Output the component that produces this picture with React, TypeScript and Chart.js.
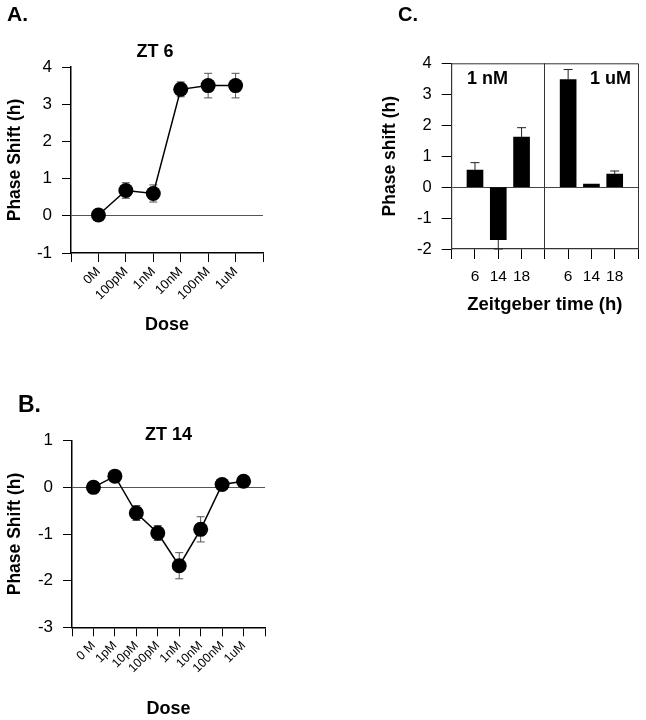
import React, { useEffect, useRef } from 'react';
import { Chart, registerables } from 'chart.js';

Chart.register(...registerables);

const FONT = '"Liberation Sans", Arial, Helvetica, sans-serif';

// ---- Panel A: ZT 6 dose response ----
const doseLabelsA = ['0M', '100pM', '1nM', '10nM', '100nM', '1uM'];
const shiftA = [0.02, 0.68, 0.6, 3.4, 3.5, 3.5];
const errA = [0, 0.21, 0.23, 0.2, 0.33, 0.33];

// ---- Panel B: ZT 14 dose response ----
const doseLabelsB = ['0 M', '1pM', '10pM', '100pM', '1nM', '10nM', '100nM', '1uM'];
const shiftB = [0.0, 0.24, -0.55, -0.98, -1.68, -0.9, 0.06, 0.13];
const errB = [0, 0, 0.16, 0.16, 0.28, 0.27, 0, 0];

// ---- Panel C: Zeitgeber time, two doses ----
const ztLabels = ['6', '14', '18'];
const shift1nM = [0.55, -1.7, 1.62];
const err1nM = [0.24, 0.3, 0.3];
const shift1uM = [3.47, 0.1, 0.42];
const err1uM = [0.33, 0, 0.1];

const errorBarsPlugin = {
  id: 'errorBars',
  beforeDatasetsDraw(chart: any) {
    drawErrors(chart, 'before');
  },
  afterDatasetsDraw(chart: any) {
    drawErrors(chart, 'after');
  },
};

function drawErrors(chart: any, phase: string) {
  const ctx = chart.ctx;
  const yScale = chart.scales.y;
  chart.data.datasets.forEach((ds: any, i: number) => {
    if (!ds.errors || ds.errorPhase !== phase) return;
    const meta = chart.getDatasetMeta(i);
    ctx.save();
    ctx.strokeStyle = ds.errorColor || '#444';
    ctx.lineWidth = 1;
    meta.data.forEach((el: any, j: number) => {
      const e = ds.errors[j];
      if (!e) return;
      const v = ds.data[j].y;
      let hi: number, lo: number;
      if (ds.errorMode === 'away') {
        hi = v >= 0 ? v + e : v;
        lo = v >= 0 ? v : v - e;
      } else {
        hi = v + e;
        lo = v - e;
      }
      const x = el.x;
      const yh = yScale.getPixelForValue(hi);
      const yl = yScale.getPixelForValue(lo);
      const cap = ds.capWidth || 8;
      ctx.beginPath();
      ctx.moveTo(x, yh);
      ctx.lineTo(x, yl);
      if (ds.errorMode !== 'away' || v >= 0) {
        ctx.moveTo(x - cap / 2, yh);
        ctx.lineTo(x + cap / 2, yh);
      }
      if (ds.errorMode !== 'away' || v < 0) {
        ctx.moveTo(x - cap / 2, yl);
        ctx.lineTo(x + cap / 2, yl);
      }
      ctx.stroke();
    });
    ctx.restore();
  });
}

const panelTextPlugin = {
  id: 'panelText',
  afterDraw(chart: any, _args: any, opts: any) {
    const ctx = chart.ctx;
    (opts.items || []).forEach((it: any) => {
      ctx.save();
      ctx.font = `bold ${it.size}px ${FONT}`;
      ctx.fillStyle = '#000';
      ctx.textAlign = 'center';
      ctx.textBaseline = 'middle';
      ctx.fillText(it.text, it.x, it.y);
      ctx.restore();
    });
  },
};

const framePlugin = {
  id: 'frame',
  afterDraw(chart: any, _args: any, opts: any) {
    if (!opts.show) return;
    const { left, right, top, bottom } = chart.chartArea;
    const ctx = chart.ctx;
    ctx.save();
    ctx.strokeStyle = '#333';
    ctx.lineWidth = 1;
    ctx.beginPath();
    ctx.moveTo(left, top + 0.5);
    ctx.lineTo(right + 0.5, top + 0.5);
    ctx.lineTo(right + 0.5, bottom);
    ctx.stroke();
    ctx.restore();
  },
};

Chart.register(errorBarsPlugin, panelTextPlugin, framePlugin);

function tickFont(size: number) {
  return { family: FONT, size };
}
function titleFont(size: number) {
  return { family: FONT, size, weight: 'bold' as const };
}

function doseConfig(
  labels: string[],
  values: number[],
  errors: number[],
  yMin: number,
  yMax: number,
  yWidth: number,
  xHeight: number,
  pad: any,
  texts: any[],
  xFont: number
) {
  return {
    type: 'line',
    data: {
      datasets: [
        {
          data: values.map((v, i) => ({ x: i + 1, y: v })),
          borderColor: '#000',
          borderWidth: 1.5,
          pointRadius: 7.5,
          pointBackgroundColor: '#000',
          pointBorderColor: '#000',
          pointBorderWidth: 0,
          errors,
          errorMode: 'both',
          errorPhase: 'before',
          errorColor: '#555',
          capWidth: 8,
        },
      ],
    },
    options: {
      animation: false,
      responsive: false,
      layout: { padding: pad },
      plugins: {
        legend: { display: false },
        tooltip: { enabled: false },
        panelText: { items: texts },
      },
      scales: {
        x: {
          type: 'linear',
          min: 0,
          max: labels.length + 1,
          afterFit: (s: any) => {
            s.height = xHeight;
          },
          ticks: {
            stepSize: 1,
            autoSkip: false,
            minRotation: 45,
            maxRotation: 45,
            padding: 2,
            color: '#000',
            font: tickFont(xFont),
            callback: (v: number) => labels[v - 1] ?? '',
          },
          grid: { drawOnChartArea: false, tickLength: 9, tickColor: '#000', tickWidth: 1 },
          border: { color: '#000', width: 1.5 },
          title: {
            display: true,
            text: 'Dose',
            color: '#000',
            font: titleFont(18),
            padding: 0,
          },
        },
        y: {
          min: yMin,
          max: yMax,
          afterFit: (s: any) => {
            s.width = yWidth;
          },
          ticks: { stepSize: 1, padding: 10, color: '#000', font: tickFont(17) },
          grid: {
            color: (c: any) => (c.tick && c.tick.value === 0 ? '#555' : 'rgba(0,0,0,0)'),
            lineWidth: 1,
            tickColor: '#000',
            tickLength: 9,
          },
          border: { color: '#000', width: 1.5 },
          title: {
            display: true,
            text: 'Phase Shift (h)',
            color: '#000',
            font: titleFont(17.5),
            padding: 4.5,
          },
        },
      },
    },
  };
}

function barConfig() {
  const xLabel = (v: number) => {
    if (v >= 1 && v <= 3) return ztLabels[v - 1];
    if (v >= 5 && v <= 7) return ztLabels[v - 5];
    return '';
  };
  const mk = (vals: number[], errs: number[], offset: number) => ({
    data: vals.map((v, i) => ({ x: i + offset, y: v })),
    backgroundColor: '#000',
    borderWidth: 0,
    barThickness: 16,
    grouped: false,
    errors: errs,
    errorMode: 'away',
    errorPhase: 'after',
    errorColor: '#222',
    capWidth: 9,
  });
  return {
    type: 'bar',
    data: {
      datasets: [mk(shift1nM, err1nM, 1), mk(shift1uM, err1uM, 5)],
    },
    options: {
      animation: false,
      responsive: false,
      layout: { padding: { left: 0, top: 63.3, right: 5, bottom: 0 } },
      plugins: {
        legend: { display: false },
        tooltip: { enabled: false },
        frame: { show: true },
        panelText: {
          items: [
            { text: 'C.', x: 48, y: 15.5, size: 20 },
            { text: '1 nM', x: 127.5, y: 79, size: 18 },
            { text: '1 uM', x: 250.5, y: 79, size: 18 },
          ],
        },
      },
      scales: {
        x: {
          type: 'linear',
          min: 0,
          max: 8,
          offset: false,
          afterFit: (s: any) => {
            s.height = 67;
          },
          ticks: {
            stepSize: 1,
            autoSkip: false,
            minRotation: 0,
            maxRotation: 0,
            padding: 8,
            color: '#000',
            font: tickFont(15.5),
            callback: (v: number) => xLabel(v),
          },
          grid: {
            offset: false,
            drawOnChartArea: true,
            color: (c: any) => (c.tick && c.tick.value === 4 ? '#333' : 'rgba(0,0,0,0)'),
            tickColor: '#000',
            tickLength: 10,
          },
          border: { color: '#333', width: 1.2 },
          title: {
            display: true,
            text: 'Zeitgeber time (h)',
            color: '#000',
            font: titleFont(18.5),
            padding: 0,
          },
        },
        y: {
          min: -2,
          max: 4,
          afterFit: (s: any) => {
            s.width = 91.7;
          },
          ticks: { stepSize: 1, padding: 10, color: '#000', font: tickFont(16.5) },
          grid: {
            color: (c: any) => (c.tick && c.tick.value === 0 ? '#444' : 'rgba(0,0,0,0)'),
            tickColor: '#000',
            tickLength: 10,
          },
          border: { color: '#333', width: 1.2 },
          title: {
            display: true,
            text: 'Phase shift (h)',
            color: '#000',
            font: titleFont(17.5),
            padding: 19.5,
          },
        },
      },
    },
  };
}

function Panel({ config, left, top, width, height }: any) {
  const ref = useRef<HTMLCanvasElement | null>(null);
  useEffect(() => {
    if (!ref.current) return;
    const chart = new Chart(ref.current, config);
    return () => chart.destroy();
  }, [config]);
  return (
    <canvas
      ref={ref}
      width={width}
      height={height}
      style={{ position: 'absolute', left, top, width, height }}
    />
  );
}

const configA = doseConfig(
  doseLabelsA,
  shiftA,
  errA,
  -1,
  4,
  71,
  83,
  { left: 0, top: 67, right: 37, bottom: 0 },
  [
    { text: 'A.', x: 17.5, y: 15, size: 21 },
    { text: 'ZT 6', x: 155, y: 52, size: 18 },
  ],
  13
);

const configB = doseConfig(
  doseLabelsB,
  shiftB,
  errB,
  -3,
  1,
  72,
  92.7,
  { left: 0, top: 60.7, right: 35, bottom: 0 },
  [
    { text: 'B.', x: 29.5, y: 26, size: 23 },
    { text: 'ZT 14', x: 168.5, y: 55.5, size: 18 },
  ],
  12.5
);

const configC = barConfig();

export default function App() {
  return (
    <div
      style={{
        position: 'fixed',
        left: 0,
        top: 0,
        width: 646,
        height: 720,
        background: '#fff',
        overflow: 'hidden',
      }}
    >
      <Panel config={configA} left={0} top={0} width={300} height={336} />
      <Panel config={configB} left={0} top={380} width={300} height={340} />
      <Panel config={configC} left={360} top={0} width={286} height={316} />
    </div>
  );
}
